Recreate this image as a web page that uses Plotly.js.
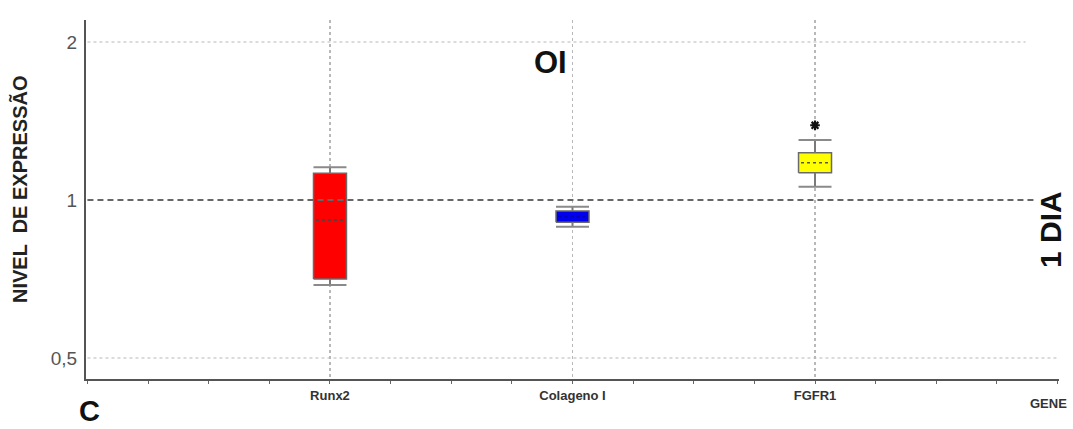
<!DOCTYPE html>
<html>
<head>
<meta charset="utf-8">
<script src="https://cdn.plot.ly/plotly-3.0.1.min.js"></script>
<style>
  html, body { margin: 0; padding: 0; background: #ffffff; }
  #chart { width: 1073px; height: 429px; }
</style>
</head>
<body>
<div id="chart"></div>
<script>
// ---- data ----
const genes        = ["Runx2", "Colageno I", "FGFR1"];
const genePos      = [1, 2, 3];
const lowerWhisker = [0.689, 0.889, 1.060];
const q1Values     = [0.707, 0.907, 1.127];
const medianValues = [0.916, 0.930, 1.178];
const q3Values     = [1.124, 0.953, 1.231];
const upperWhisker = [1.154, 0.971, 1.301];
const outlierGene  = [3];
const outlierValue = [1.388];
const yTickVals    = [0.5, 1, 2];
const yTickText    = ["0,5", "1", "2"];

// ---- styles ----
const fillColors   = ["#ff0000", "#0000ee", "#ffff00"];
const medianColors = ["#444444", "#0000b0", "#555555"];
const halfW = 0.068;

// plot box in pixels
const L = 86, R = 1059, T = 20, B = 379;
const W = R - L, H = B - T;
const px = x => (x - L) / W;
const py = y => (B - y) / H;
const logLo = Math.log10(0.5) - 21 / 524.9;
const logHi = Math.log10(2) + 22 / 524.9;

const traces = [];

// horizontal reference lines (0,5 and 2 dotted)
traces.push({
  type: "scatter", mode: "lines", hoverinfo: "skip", showlegend: false,
  x: [0, 4.02], y: [yTickVals[0], yTickVals[0]],
  line: { color: "#b8b8b8", width: 1.2, dash: "dot" }
});
traces.push({
  type: "scatter", mode: "lines", hoverinfo: "skip", showlegend: false,
  x: [0, 3.868], y: [yTickVals[2], yTickVals[2]],
  line: { color: "#b8b8b8", width: 1.2, dash: "dot" }
});

genes.forEach((g, i) => {
  const c = genePos[i];
  // box body
  traces.push({
    type: "scatter", mode: "lines", showlegend: false, name: g,
    x: [c - halfW, c + halfW, c + halfW, c - halfW, c - halfW],
    y: [q1Values[i], q1Values[i], q3Values[i], q3Values[i], q1Values[i]],
    fill: "toself", fillcolor: fillColors[i],
    line: { color: "#6a6a6a", width: 1.5 }
  });
  // whiskers
  traces.push({
    type: "scatter", mode: "lines", showlegend: false, hoverinfo: "skip",
    x: [c, c, null, c, c],
    y: [q3Values[i], upperWhisker[i], null, q1Values[i], lowerWhisker[i]],
    line: { color: "#7a7a7a", width: 2 }
  });
  // caps
  traces.push({
    type: "scatter", mode: "lines", showlegend: false, hoverinfo: "skip",
    x: [c - halfW, c + halfW, null, c - halfW, c + halfW],
    y: [upperWhisker[i], upperWhisker[i], null, lowerWhisker[i], lowerWhisker[i]],
    line: { color: "#8a8a8a", width: 2 }
  });
  // median
  traces.push({
    type: "scatter", mode: "lines", showlegend: false, hoverinfo: "skip",
    x: [c - halfW * 0.85, c + halfW * 0.85],
    y: [medianValues[i], medianValues[i]],
    line: { color: medianColors[i], width: 1.5, dash: "dot" }
  });
});

// outlier / significance star
traces.push({
  type: "scatter", mode: "markers", showlegend: false,
  x: outlierGene, y: outlierValue,
  marker: { symbol: "asterisk-open", size: 8, color: "#111", line: { color: "#111", width: 2.2 } }
});

// dashed reference line at 1
traces.push({
  type: "scatter", mode: "lines", hoverinfo: "skip", showlegend: false,
  x: [0, 3.915], y: [yTickVals[1], yTickVals[1]],
  line: { color: "#666666", width: 2, dash: "6px,4px" }
});

const layout = {
  width: 1073, height: 429,
  margin: { l: L, r: 1073 - R, t: T, b: 429 - B, pad: 0 },
  paper_bgcolor: "#ffffff", plot_bgcolor: "#ffffff",
  showlegend: false,
  xaxis: {
    range: [-0.006, 4.006],
    tickvals: genePos, ticktext: genes,
    tickfont: { family: "Liberation Sans Narrow, Liberation Sans, Arial", size: 13, color: "#333", weight: "bold" },
    showgrid: true, gridcolor: "#b8b8b8", gridwidth: 1.2, griddash: "dot",
    ticks: "outside", ticklen: 3, tickcolor: "#666",
    minor: { dtick: 0.25, tick0: 0, ticks: "outside", ticklen: 3, tickcolor: "#666", showgrid: false },
    showline: true, linecolor: "#555", linewidth: 2,
    zeroline: false, fixedrange: true
  },
  yaxis: {
    type: "log", range: [logLo, logHi],
    tickvals: yTickVals, ticktext: yTickText,
    tickfont: { family: "Liberation Sans Narrow, Liberation Sans, Arial", size: 19, color: "#555" },
    ticks: "", showgrid: false, zeroline: false,
    showline: true, linecolor: "#555", linewidth: 2,
    ticklabelstandoff: 3, fixedrange: true
  },
  annotations: [
    { xref: "paper", yref: "paper", x: px(550), y: py(62), text: "<b>OI</b>", showarrow: false,
      xanchor: "center", yanchor: "middle",
      font: { family: "Liberation Sans, Arial", size: 31, color: "#111" } },
    { xref: "paper", yref: "paper", x: px(1050), y: py(230), text: "<b>1 DIA</b>", showarrow: false,
      textangle: -90, xanchor: "center", yanchor: "middle",
      font: { family: "Liberation Sans, Arial", size: 30, color: "#111" } },
    { xref: "paper", yref: "paper", x: px(20), y: py(190), text: "<b>NIVEL  DE EXPRESSÃO</b>", showarrow: false,
      textangle: -90, xanchor: "center", yanchor: "middle",
      font: { family: "Liberation Sans, Arial", size: 20, color: "#222" } },
    { xref: "paper", yref: "paper", x: px(1048), y: py(403), text: "<b>GENE</b>", showarrow: false,
      xanchor: "center", yanchor: "middle",
      font: { family: "Liberation Sans Narrow, Liberation Sans, Arial", size: 13, color: "#333" } },
    { xref: "paper", yref: "paper", x: px(89), y: py(411), text: "<b>C</b>", showarrow: false,
      xanchor: "center", yanchor: "middle",
      font: { family: "Liberation Sans, Arial", size: 29, color: "#111" } }
  ]
};

Plotly.newPlot("chart", traces, layout, { displayModeBar: false, staticPlot: true });
</script>
</body>
</html>
